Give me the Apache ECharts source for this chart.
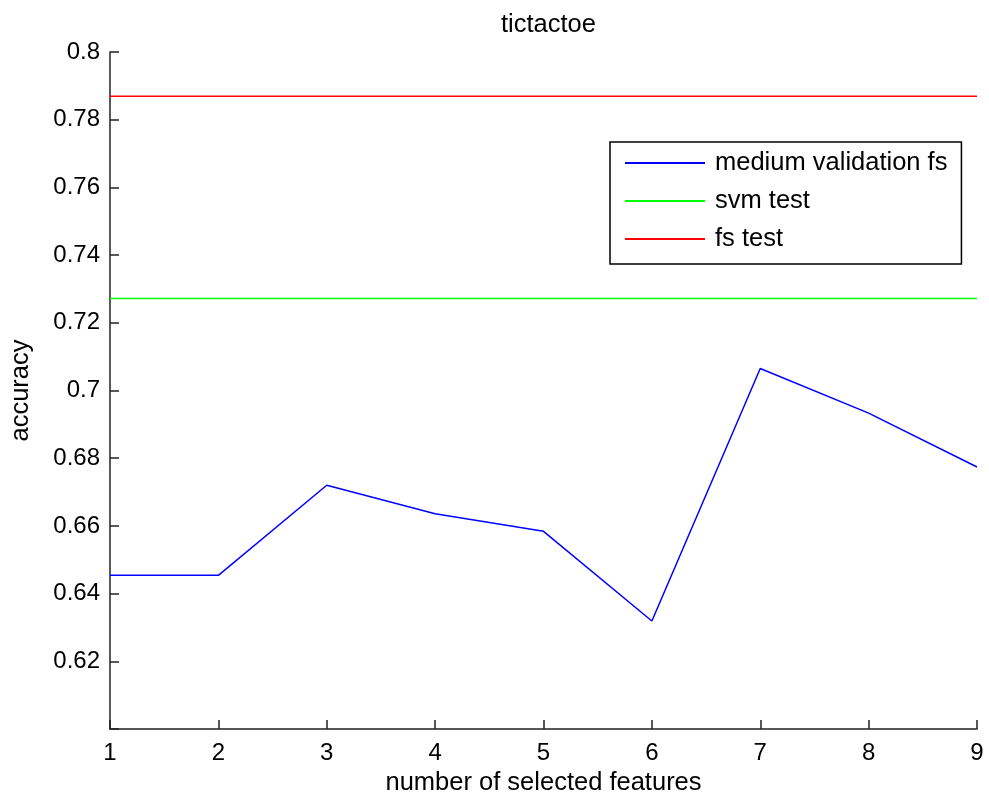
<!DOCTYPE html>
<html>
<head>
<meta charset="utf-8">
<script src="https://cdn.jsdelivr.net/npm/echarts@6/dist/echarts.min.js"></script>
<style>html,body{margin:0;padding:0;background:#fff}#c{width:989px;height:798px}</style>
</head>
<body>
<div id="c"></div>
<script>
const features = [1, 2, 3, 4, 5, 6, 7, 8, 9];
const mediumValidationFs = [0.6454, 0.6454, 0.6720, 0.6636, 0.6584, 0.6319, 0.7065, 0.6933, 0.6774];
const svmTest = 0.7272;
const fsTest = 0.7869;
const seriesNames = ['medium validation fs', 'svm test', 'fs test'];

const FONT = 'Liberation Sans, Arial, sans-serif';
const TXT = 25.5;
const chart = echarts.init(document.getElementById('c'));
const pairs = v => features.map((x, i) => [x, Array.isArray(v) ? v[i] : v]);

chart.setOption({
  backgroundColor: '#fff',
  animation: false,
  title: {
    text: 'tictactoe', left: 543.5, top: 7, textAlign: 'center',
    textStyle: { fontFamily: FONT, fontSize: TXT, fontWeight: 'normal', color: '#000' }
  },
  grid: { left: 110, top: 52, width: 867, height: 677, containLabel: false, outerBoundsMode: 'none' },
  legend: {
    data: seriesNames, orient: 'vertical', left: 610, top: 142,
    backgroundColor: '#fff', borderColor: '#000', borderWidth: 1.5,
    padding: [7, 14, 11, 15], itemWidth: 80, itemHeight: 2, itemGap: 10, icon: 'rect',
    textStyle: { fontFamily: FONT, fontSize: TXT, color: '#000', lineHeight: 28, padding: [0, 0, 0, 5] }
  },
  xAxis: {
    type: 'value', min: 1, max: 9, interval: 1,
    name: 'number of selected features', nameLocation: 'middle', nameGap: 41,
    nameTextStyle: { fontFamily: FONT, fontSize: TXT, color: '#000' },
    axisLine: { lineStyle: { color: '#222', width: 1.5 } },
    axisTick: { inside: true, length: 9, lineStyle: { color: '#222', width: 1.5 } },
    axisLabel: { fontFamily: FONT, fontSize: 24, color: '#000', margin: 12 },
    splitLine: { show: false }
  },
  yAxis: {
    type: 'value', min: 0.6, max: 0.8, interval: 0.02,
    name: 'accuracy', nameLocation: 'middle', nameGap: 76,
    nameTextStyle: { fontFamily: FONT, fontSize: TXT, color: '#000' },
    axisLine: { show: true, lineStyle: { color: '#222', width: 1.5 } },
    axisTick: { show: true, inside: true, length: 9, lineStyle: { color: '#222', width: 1.5 } },
    axisLabel: {
      fontFamily: FONT, fontSize: 24, color: '#000', margin: 10,
      formatter: v => Math.abs(v - 0.6) < 1e-9 ? '' : String(+v.toFixed(2))
    },
    splitLine: { show: false }
  },
  series: [
    { name: seriesNames[0], type: 'line', data: pairs(mediumValidationFs), symbol: 'none',
      lineStyle: { color: '#0000ff', width: 1.5 }, itemStyle: { color: '#0000ff' } },
    { name: seriesNames[1], type: 'line', data: pairs(svmTest), symbol: 'none',
      lineStyle: { color: '#00ff00', width: 1.5 }, itemStyle: { color: '#00ff00' } },
    { name: seriesNames[2], type: 'line', data: pairs(fsTest), symbol: 'none',
      lineStyle: { color: '#ff0000', width: 1.5 }, itemStyle: { color: '#ff0000' } }
  ]
});
</script>
</body>
</html>
